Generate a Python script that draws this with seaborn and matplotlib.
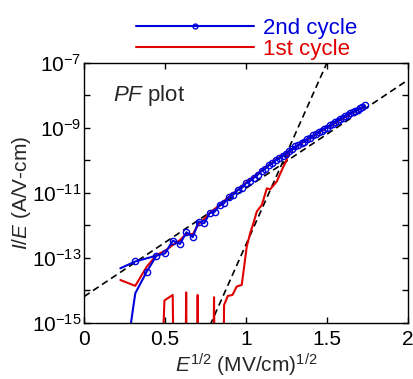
import numpy as np
import matplotlib
matplotlib.use('Agg')
import matplotlib.pyplot as plt
import seaborn as sns
from matplotlib.lines import Line2D
from matplotlib.ticker import FixedLocator, FuncFormatter, MultipleLocator

# 2nd cycle, sweep up (x = E^1/2, y = log10(I/E))
blue_x = [0.278, 0.316, 0.387, 0.447, 0.500, 0.548, 0.592, 0.632, 0.671, 0.707,
          0.742, 0.775, 0.806, 0.837, 0.866, 0.894, 0.922, 0.949, 0.975, 1.000,
          1.025, 1.049, 1.072, 1.095, 1.118, 1.140, 1.162, 1.183, 1.204, 1.225,
          1.245, 1.265, 1.285, 1.304, 1.323, 1.342, 1.360, 1.378, 1.396, 1.414,
          1.432, 1.449, 1.466, 1.483, 1.500, 1.517, 1.533, 1.549, 1.565, 1.581,
          1.597, 1.612, 1.627, 1.643, 1.658, 1.673, 1.688, 1.703, 1.718, 1.732]
blue_logy = [-15.40, -14.09, -13.42, -12.93, -12.86, -12.47, -12.57, -12.21, -12.36, -11.88,
             -11.93, -11.62, -11.58, -11.36, -11.30, -11.13, -11.05, -10.91, -10.84, -10.70,
             -10.63, -10.53, -10.44, -10.33, -10.26, -10.15, -10.09, -9.99, -9.94, -9.86,
             -9.80, -9.70, -9.66, -9.57, -9.53, -9.45, -9.42, -9.34, -9.30, -9.23,
             -9.19, -9.12, -9.08, -9.02, -8.99, -8.92, -8.89, -8.82, -8.78, -8.72,
             -8.69, -8.63, -8.60, -8.55, -8.52, -8.47, -8.44, -8.39, -8.36, -8.31]
# 2nd cycle, end of sweep back
blue_back_x = [0.224, 0.316, 0.447]
blue_back_logy = [-13.32, -13.11, -12.93]

# 1st cycle, up and back
red_x = [0.480, 0.496, 0.547, 0.553, 0.626, 0.630, 0.634, 0.697, 0.701, 0.705,
         0.798, 0.802, 0.806, 0.860, 0.864, 0.887, 0.916, 0.942, 0.973, 1.004,
         1.025, 1.045, 1.066, 1.097, 1.128, 1.148, 1.189, 1.230, 1.245, 1.265,
         1.304, 1.342, 1.378, 1.414, 1.449, 1.483, 1.517, 1.549, 1.581, 1.612,
         1.643, 1.673, 1.703, 1.732,
         1.703, 1.673, 1.643, 1.612, 1.581, 1.549, 1.517, 1.483, 1.449, 1.414,
         1.378, 1.342, 1.304, 1.265, 1.225, 1.183, 1.140, 1.095, 1.049, 1.000,
         0.949, 0.894, 0.837, 0.775, 0.742, 0.707, 0.671, 0.632, 0.592, 0.548,
         0.500, 0.447, 0.387, 0.316, 0.224]
red_logy = [-16.5, -14.31, -14.14, -16.5, -16.5, -14.06, -16.5, -16.5, -14.14, -16.5,
            -16.5, -14.21, -16.5, -16.5, -14.45, -14.17, -14.14, -13.88, -13.83, -12.65,
            -12.24, -11.93, -11.57, -11.37, -10.86, -10.89, -10.65, -10.19, -10.05, -9.75,
            -9.60, -9.47, -9.36, -9.25, -9.14, -9.04, -8.94, -8.85, -8.75, -8.66,
            -8.57, -8.49, -8.41, -8.34,
            -8.40, -8.48, -8.56, -8.65, -8.73, -8.83, -8.93, -9.03, -9.13, -9.24,
            -9.35, -9.46, -9.59, -9.71, -9.84, -9.98, -10.14, -10.31, -10.50, -10.68,
            -10.90, -11.12, -11.37, -11.62, -11.80, -11.96, -12.27, -12.26, -12.45, -12.60,
            -12.78, -12.91, -13.27, -13.86, -13.68]

# PF fit lines
fit_low_x = [0.0, 2.0]
fit_low_logy = [-14.19, -7.52]
fit_high_x = [0.75, 1.55]
fit_high_logy = [-15.38, -6.42]

sns.set_style('ticks')
plt.rcParams['font.family'] = ['Liberation Sans', 'DejaVu Sans']
plt.rcParams['mathtext.fontset'] = 'custom'
plt.rcParams['mathtext.rm'] = 'Liberation Sans'
plt.rcParams['mathtext.it'] = 'Liberation Sans:italic'

blue = '#0000dd'
red = '#e00000'

fig = plt.figure(figsize=(4.14, 3.79), dpi=100)
ax = fig.add_axes([0.203, 0.148, 0.783, 0.686])

sns.lineplot(x=fit_low_x, y=10 ** np.array(fit_low_logy), ax=ax, color='black',
             lw=1.2, linestyle=(0, (4, 2.5)), sort=False, estimator=None)
sns.lineplot(x=fit_high_x, y=10 ** np.array(fit_high_logy), ax=ax, color='black',
             lw=1.2, linestyle=(0, (4, 2.5)), sort=False, estimator=None)

sns.lineplot(x=red_x, y=10 ** np.array(red_logy), ax=ax, color=red, lw=1.5,
             sort=False, estimator=None)
sns.lineplot(x=blue_x, y=10 ** np.array(blue_logy), ax=ax, color=blue, lw=1.5,
             marker='o', markersize=4.5, mfc='none', mec=blue, mew=1.0,
             markevery=slice(2, None), sort=False, estimator=None)
sns.lineplot(x=blue_back_x, y=10 ** np.array(blue_back_logy), ax=ax, color=blue, lw=1.5,
             marker='o', markersize=4.5, mfc='none', mec=blue, mew=1.0,
             markevery=[1], sort=False, estimator=None)

ax.set_yscale('log')
ax.set_xlim(0, 2)
ax.set_ylim(1e-15, 1e-7)
ax.xaxis.set_major_locator(MultipleLocator(0.5))
ax.xaxis.set_major_formatter(FuncFormatter(lambda v, p: '%g' % v))
ax.yaxis.set_major_locator(FixedLocator([10.0 ** k for k in range(-15, -6)]))
ax.yaxis.set_minor_locator(FixedLocator([]))


def ylab(v, p):
    k = int(round(np.log10(v)))
    return r'10$^{%d}$' % k if k % 2 else ''


ax.yaxis.set_major_formatter(FuncFormatter(ylab))
ax.tick_params(which='both', direction='in', top=True, right=True, length=4.5,
               width=1, labelsize=15, colors='black')
ax.tick_params(axis='x', pad=5)
ax.tick_params(axis='y', pad=2)
for s in ax.spines.values():
    s.set_linewidth(1.0)
    s.set_color('black')

ax.set_xlabel(r'$\it{E}^{1/2}$ (MV/cm)$^{1/2}$', fontsize=15, labelpad=2)
ax.set_ylabel(r'$\it{I/E}$ (A/V-cm)', fontsize=15, labelpad=-1)
ax.text(0.09, 0.854, r'$\it{PF}$ plot', transform=ax.transAxes, fontsize=16,
        ha='left', va='baseline')

handles = [Line2D([], [], color=blue, lw=1.5, marker='o', markersize=3.5,
                  mfc='none', mec=blue, mew=1.0),
           Line2D([], [], color=red, lw=1.5)]
leg = ax.legend(handles, ['2nd cycle', '1st cycle'], loc='lower left',
                bbox_to_anchor=(0.15, 1.0), frameon=False, fontsize=16,
                handlelength=5.3, handletextpad=0.4, labelspacing=0.0,
                borderpad=0.0, borderaxespad=0.15, numpoints=1)
for t, c in zip(leg.get_texts(), [blue, red]):
    t.set_color(c)

fig.savefig('out.png', dpi=100)
